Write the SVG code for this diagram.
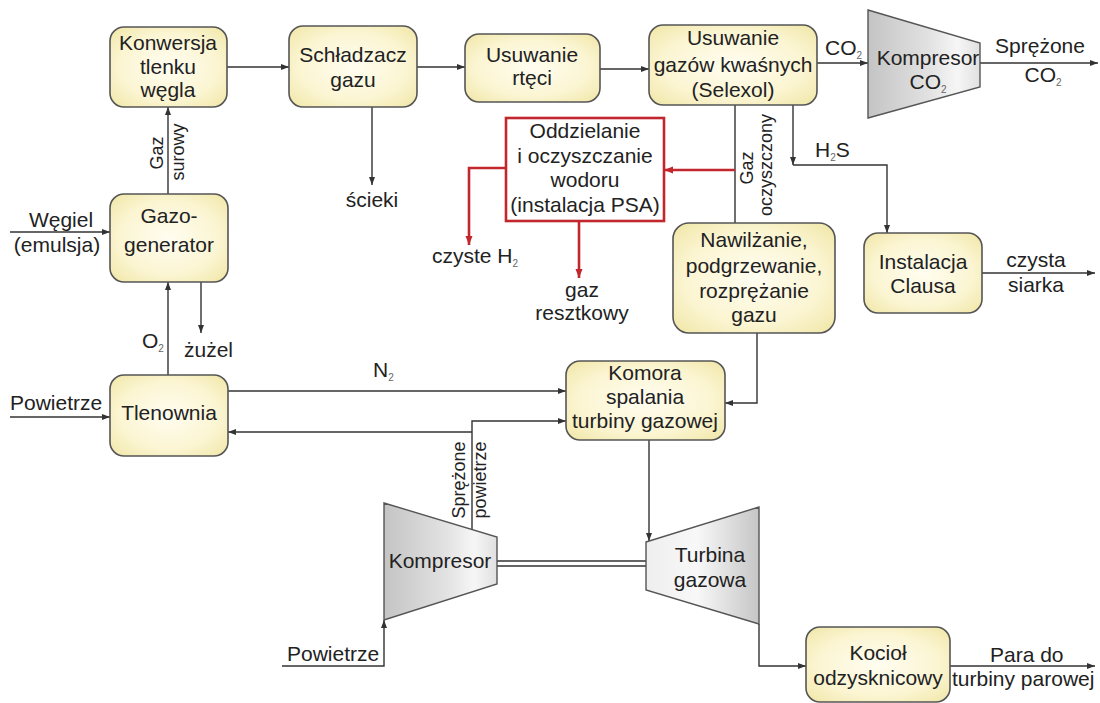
<svg xmlns="http://www.w3.org/2000/svg" width="1100" height="703" viewBox="0 0 1100 703">
<defs>
<radialGradient id="boxg" cx="50%" cy="50%" r="70%">
<stop offset="0" stop-color="#fffdf0"/>
<stop offset="0.6" stop-color="#fbf5d2"/>
<stop offset="1" stop-color="#f0e6a6"/>
</radialGradient>
<linearGradient id="compg" x1="0" y1="0" x2="1" y2="0">
<stop offset="0" stop-color="#c4c4c4"/>
<stop offset="0.55" stop-color="#e2e2e2"/>
<stop offset="0.8" stop-color="#f6f6f6"/>
<stop offset="1" stop-color="#e0e0e0"/>
</linearGradient>
<linearGradient id="turbg" x1="0" y1="0" x2="1" y2="0">
<stop offset="0" stop-color="#eeeeee"/>
<stop offset="0.45" stop-color="#f8f8f8"/>
<stop offset="1" stop-color="#c6c6c6"/>
</linearGradient>
<marker id="ah" markerWidth="9" markerHeight="8" refX="8" refY="4" orient="auto" markerUnits="userSpaceOnUse">
<path d="M0,1 L8,4 L0,7 z" fill="#333"/>
</marker>
<marker id="ahr" markerWidth="10" markerHeight="10" refX="9" refY="5" orient="auto" markerUnits="userSpaceOnUse">
<path d="M0,1.5 L9,5 L0,8.5 z" fill="#c1272d"/>
</marker>
</defs>
<style>
.box{fill:url(#boxg);stroke:#555;stroke-width:1.6}
.comp{fill:url(#compg);stroke:#555;stroke-width:1.4}
.turb{fill:url(#turbg);stroke:#555;stroke-width:1.4}
.red{fill:#fff;stroke:#c1272d;stroke-width:2.6}
text{font-family:"Liberation Sans",Arial,sans-serif;font-size:21px;fill:#222}
.c{text-anchor:middle}
.rot{font-size:18px;text-anchor:middle}
.sub{font-size:10px;fill:#666}
.ln{fill:none;stroke:#333;stroke-width:1.4}
.arr{fill:none;stroke:#333;stroke-width:1.4;marker-end:url(#ah)}
.rarr{fill:none;stroke:#c1272d;stroke-width:2.6;marker-end:url(#ahr)}
.rln{fill:none;stroke:#c1272d;stroke-width:2.6}
</style>
<rect width="1100" height="703" fill="#fff"/>

<g id="connectors">
<path class="arr" d="M227,67 H289"/>
<path class="arr" d="M417,67 H465"/>
<path class="arr" d="M600,69 H649"/>
<path class="arr" d="M817,63 H868"/>
<path class="arr" d="M980,63 H1098"/>
<path class="arr" d="M168,194 V107"/>
<path class="arr" d="M10,232 H110"/>
<path class="arr" d="M168,375 V282"/>
<path class="arr" d="M201,282 V333"/>
<path class="arr" d="M10,417 H110"/>
<path class="arr" d="M228,391 H566"/>
<path class="arr" d="M472,530 V421 H566"/>
<path class="arr" d="M472,432 H228"/>
<path class="arr" d="M372,107 V185"/>
<path class="ln" d="M735,105 V223"/>
<path class="rarr" d="M735,170 H664"/>
<path class="rarr" d="M506,168 H469 V245"/>
<path class="rarr" d="M579,221 V278"/>
<path class="arr" d="M793,105 V165"/>
<path class="arr" d="M793,165 H887 V233"/>
<path class="arr" d="M982,273 H1095"/>
<path class="arr" d="M757,333 V403 H725"/>
<path class="arr" d="M649,440 V541"/>
<path class="ln" d="M497,561 H647 M497,566 H647"/>
<path class="arr" d="M282,666 H384 V620"/>
<path class="arr" d="M759,624 V666 H806"/>
<path class="arr" d="M950,666 H1095"/>
</g>

<g id="konwersja">
<rect class="box" x="110" y="27" width="117" height="80" rx="14"/>
<text class="c" x="168" y="50">Konwersja</text>
<text class="c" x="168" y="74">tlenku</text>
<text class="c" x="168" y="97">węgla</text>
</g>
<g id="schladzacz">
<rect class="box" x="289" y="26" width="128" height="81" rx="14"/>
<text class="c" x="353" y="62">Schładzacz</text>
<text class="c" x="353" y="87">gazu</text>
</g>
<g id="rteci">
<rect class="box" x="465" y="34" width="135" height="68" rx="14"/>
<text class="c" x="532" y="62">Usuwanie</text>
<text class="c" x="532" y="85">rtęci</text>
</g>
<g id="selexol">
<rect class="box" x="649" y="25" width="168" height="80" rx="14"/>
<text class="c" x="733" y="45">Usuwanie</text>
<text class="c" x="733" y="72">gazów kwaśnych</text>
<text class="c" x="733" y="97">(Selexol)</text>
</g>
<g id="kompresor-co2">
<polygon class="comp" points="868,10 980,43 980,87 868,118"/>
<text class="c" x="928" y="65">Kompresor</text>
<text class="c" x="928" y="89">CO<tspan class="sub" dy="4">2</tspan></text>
</g>
<g id="psa">
<rect class="red" x="506" y="118" width="158" height="103"/>
<text class="c" x="585" y="138">Oddzielanie</text>
<text class="c" x="585" y="163">i oczyszczanie</text>
<text class="c" x="585" y="187">wodoru</text>
<text class="c" x="585" y="212">(instalacja PSA)</text>
</g>
<g id="gazogenerator">
<rect class="box" x="110" y="194" width="118" height="88" rx="14"/>
<text class="c" x="169" y="223">Gazo-</text>
<text class="c" x="169" y="252">generator</text>
</g>
<g id="tlenownia">
<rect class="box" x="110" y="375" width="118" height="81" rx="14"/>
<text class="c" x="169" y="420">Tlenownia</text>
</g>
<g id="nawilzanie">
<rect class="box" x="673" y="223" width="162" height="110" rx="16"/>
<text class="c" x="754" y="247">Nawilżanie,</text>
<text class="c" x="754" y="273">podgrzewanie,</text>
<text class="c" x="754" y="298">rozprężanie</text>
<text class="c" x="754" y="322">gazu</text>
</g>
<g id="clausa">
<rect class="box" x="864" y="233" width="118" height="80" rx="14"/>
<text class="c" x="923" y="269">Instalacja</text>
<text class="c" x="923" y="293">Clausa</text>
</g>
<g id="komora">
<rect class="box" x="566" y="361" width="159" height="79" rx="14"/>
<text class="c" x="645" y="380">Komora</text>
<text class="c" x="645" y="404">spalania</text>
<text class="c" x="645" y="428">turbiny gazowej</text>
</g>
<g id="kompresor">
<polygon class="comp" points="384,503 497,537 497,584 384,620"/>
<text class="c" x="440" y="568">Kompresor</text>
</g>
<g id="turbina">
<polygon class="turb" points="646,542 759,507 759,624 646,590"/>
<text class="c" x="710" y="562">Turbina</text>
<text class="c" x="710" y="587">gazowa</text>
</g>
<g id="kociol">
<rect class="box" x="806" y="627" width="144" height="75" rx="14"/>
<text class="c" x="878" y="660">Kocioł</text>
<text class="c" x="878" y="685">odzysknicowy</text>
</g>

<g id="labels">
<text x="825" y="55">CO<tspan class="sub" dy="4">2</tspan></text>
<text class="c" x="1040" y="53">Sprężone</text>
<text class="c" x="1043" y="82">CO<tspan class="sub" dy="4">2</tspan></text>
<text x="432" y="263">czyste H<tspan class="sub" dy="4">2</tspan></text>
<text class="c" x="582" y="297">gaz</text>
<text class="c" x="582" y="320">resztkowy</text>
<text class="rot" transform="translate(753,168) rotate(-90)">Gaz</text>
<text class="rot" transform="translate(772,165) rotate(-90)">oczyszczony</text>
<text class="rot" transform="translate(163,153) rotate(-90)">Gaz</text>
<text class="rot" transform="translate(184,152) rotate(-90)">surowy</text>
<text class="rot" transform="translate(465,480) rotate(-90)">Sprężone</text>
<text class="rot" transform="translate(486,480) rotate(-90)">powietrze</text>
<text class="c" x="61" y="227">Węgiel</text>
<text class="c" x="57" y="252">(emulsja)</text>
<text x="10" y="410">Powietrze</text>
<text x="142" y="348">O<tspan class="sub" dy="4">2</tspan></text>
<text x="184" y="357">żużel</text>
<text x="373" y="377">N<tspan class="sub" dy="4">2</tspan></text>
<text class="c" x="372" y="207">ścieki</text>
<text x="815" y="157">H<tspan class="sub" dy="4">2</tspan><tspan dy="-4">S</tspan></text>
<text class="c" x="1036" y="267">czysta</text>
<text class="c" x="1036" y="292">siarka</text>
<text x="287" y="661">Powietrze</text>
<text x="990" y="662">Para do</text>
<text x="952" y="686">turbiny parowej</text>
</g>
</svg>
